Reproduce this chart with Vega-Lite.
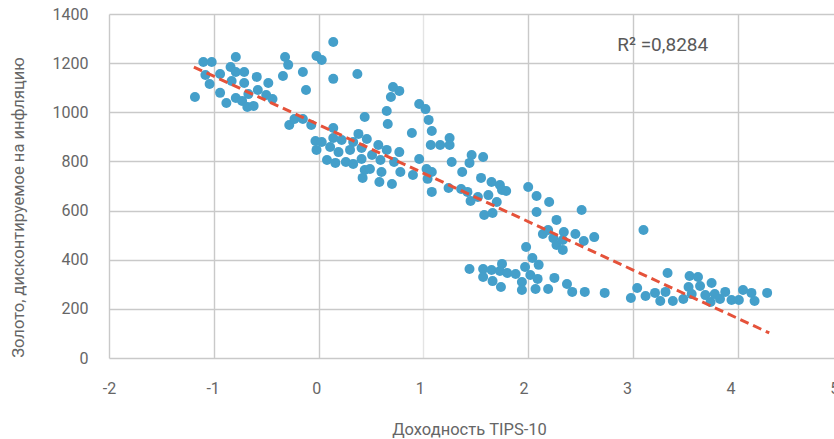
{
  "$schema": "https://vega.github.io/schema/vega-lite/v6.json",
  "autosize": {"type": "none"},
  "width": 725,
  "height": 344,
  "padding": {"left": 109, "top": 14, "right": 0, "bottom": 81},
  "background": "white",
  "config": {
    "view": {"stroke": null},
    "font": "Roboto",
    "axis": {
      "domain": false,
      "ticks": false,
      "gridColor": "#c9c9c9",
      "gridWidth": 1.4,
      "labelFont": "Roboto",
      "labelFontSize": 16,
      "labelColor": "#666666",
      "titleFont": "Roboto",
      "titleFontSize": 16.5,
      "titleFontWeight": "normal",
      "titleColor": "#666666"
    }
  },
  "datasets": {
    "points": [
      {"tips": -1.18, "gold": 1062}, {"tips": -1.10, "gold": 1205}, {"tips": -1.02, "gold": 1205},
      {"tips": -1.08, "gold": 1152}, {"tips": -1.04, "gold": 1115}, {"tips": -0.94, "gold": 1156},
      {"tips": -0.94, "gold": 1079}, {"tips": -0.88, "gold": 1038}, {"tips": -0.84, "gold": 1184},
      {"tips": -0.79, "gold": 1225}, {"tips": -0.79, "gold": 1164}, {"tips": -0.83, "gold": 1127},
      {"tips": -0.71, "gold": 1164}, {"tips": -0.71, "gold": 1119}, {"tips": -0.79, "gold": 1058},
      {"tips": -0.73, "gold": 1046}, {"tips": -0.68, "gold": 1022}, {"tips": -0.67, "gold": 1074},
      {"tips": -0.62, "gold": 1026}, {"tips": -0.59, "gold": 1144}, {"tips": -0.58, "gold": 1091},
      {"tips": -0.48, "gold": 1119}, {"tips": -0.50, "gold": 1070}, {"tips": -0.44, "gold": 1054},
      {"tips": -0.32, "gold": 1225}, {"tips": -0.29, "gold": 1193}, {"tips": -0.34, "gold": 1148},
      {"tips": -0.15, "gold": 1164}, {"tips": -0.12, "gold": 1091}, {"tips": -0.02, "gold": 1229},
      {"tips": 0.03, "gold": 1213}, {"tips": 0.14, "gold": 1286}, {"tips": 0.14, "gold": 1136},
      {"tips": -0.28, "gold": 948}, {"tips": -0.23, "gold": 973}, {"tips": -0.15, "gold": 973},
      {"tips": -0.07, "gold": 948}, {"tips": -0.03, "gold": 883}, {"tips": 0.03, "gold": 879},
      {"tips": -0.02, "gold": 847}, {"tips": 0.14, "gold": 936}, {"tips": 0.14, "gold": 895},
      {"tips": 0.22, "gold": 887}, {"tips": 0.11, "gold": 859}, {"tips": 0.19, "gold": 838},
      {"tips": 0.08, "gold": 806}, {"tips": 0.16, "gold": 794}, {"tips": 0.26, "gold": 798},
      {"tips": 0.37, "gold": 1156}, {"tips": 0.71, "gold": 1103}, {"tips": 0.77, "gold": 1087},
      {"tips": 0.69, "gold": 1062}, {"tips": 0.65, "gold": 1005}, {"tips": 0.66, "gold": 952},
      {"tips": 0.44, "gold": 981}, {"tips": 0.96, "gold": 1034}, {"tips": 1.02, "gold": 1013},
      {"tips": 1.05, "gold": 969}, {"tips": 1.08, "gold": 924}, {"tips": 0.89, "gold": 916},
      {"tips": 1.07, "gold": 867}, {"tips": 1.16, "gold": 867}, {"tips": 1.25, "gold": 895},
      {"tips": 1.25, "gold": 867}, {"tips": 0.38, "gold": 912}, {"tips": 0.46, "gold": 891},
      {"tips": 0.33, "gold": 879}, {"tips": 0.57, "gold": 867}, {"tips": 0.65, "gold": 847},
      {"tips": 0.77, "gold": 838}, {"tips": 0.30, "gold": 847}, {"tips": 0.41, "gold": 855},
      {"tips": 0.51, "gold": 826}, {"tips": 0.59, "gold": 806}, {"tips": 0.33, "gold": 790},
      {"tips": 0.41, "gold": 810}, {"tips": 0.44, "gold": 765}, {"tips": 0.49, "gold": 769},
      {"tips": 0.60, "gold": 757}, {"tips": 0.42, "gold": 733}, {"tips": 0.58, "gold": 716},
      {"tips": 0.70, "gold": 708}, {"tips": 0.72, "gold": 798}, {"tips": 0.78, "gold": 757},
      {"tips": 0.90, "gold": 745}, {"tips": 0.96, "gold": 810}, {"tips": 1.03, "gold": 769},
      {"tips": 1.08, "gold": 757}, {"tips": 1.04, "gold": 729}, {"tips": 1.08, "gold": 676},
      {"tips": 1.27, "gold": 798}, {"tips": 1.37, "gold": 757}, {"tips": 1.24, "gold": 692},
      {"tips": 1.36, "gold": 688}, {"tips": 1.42, "gold": 676}, {"tips": 1.46, "gold": 826},
      {"tips": 1.44, "gold": 794}, {"tips": 1.57, "gold": 818}, {"tips": 1.55, "gold": 733},
      {"tips": 1.65, "gold": 716}, {"tips": 1.73, "gold": 704}, {"tips": 1.75, "gold": 684},
      {"tips": 1.79, "gold": 680}, {"tips": 1.45, "gold": 639}, {"tips": 1.52, "gold": 655},
      {"tips": 1.62, "gold": 663}, {"tips": 1.70, "gold": 635}, {"tips": 1.66, "gold": 590},
      {"tips": 1.58, "gold": 582}, {"tips": 2.00, "gold": 696}, {"tips": 2.08, "gold": 659},
      {"tips": 2.08, "gold": 594}, {"tips": 2.20, "gold": 635}, {"tips": 2.14, "gold": 505},
      {"tips": 2.19, "gold": 521}, {"tips": 2.51, "gold": 602}, {"tips": 2.27, "gold": 562},
      {"tips": 2.34, "gold": 513}, {"tips": 2.45, "gold": 505}, {"tips": 2.53, "gold": 476},
      {"tips": 2.63, "gold": 492}, {"tips": 2.24, "gold": 488}, {"tips": 2.27, "gold": 460},
      {"tips": 2.33, "gold": 480}, {"tips": 2.33, "gold": 440}, {"tips": 3.10, "gold": 521},
      {"tips": 1.98, "gold": 452}, {"tips": 2.04, "gold": 407}, {"tips": 2.10, "gold": 379},
      {"tips": 1.97, "gold": 370}, {"tips": 1.44, "gold": 362}, {"tips": 1.57, "gold": 362},
      {"tips": 1.65, "gold": 358}, {"tips": 1.75, "gold": 383}, {"tips": 1.73, "gold": 354},
      {"tips": 1.80, "gold": 346}, {"tips": 1.88, "gold": 342}, {"tips": 1.57, "gold": 330},
      {"tips": 1.66, "gold": 313}, {"tips": 1.74, "gold": 289}, {"tips": 1.94, "gold": 309},
      {"tips": 1.94, "gold": 277}, {"tips": 2.02, "gold": 338}, {"tips": 2.09, "gold": 322},
      {"tips": 2.07, "gold": 281}, {"tips": 2.19, "gold": 281}, {"tips": 2.25, "gold": 326},
      {"tips": 2.37, "gold": 301}, {"tips": 2.42, "gold": 269}, {"tips": 2.54, "gold": 269},
      {"tips": 2.73, "gold": 265}, {"tips": 2.98, "gold": 244}, {"tips": 3.04, "gold": 285},
      {"tips": 3.12, "gold": 252}, {"tips": 3.21, "gold": 265}, {"tips": 3.26, "gold": 232},
      {"tips": 3.31, "gold": 269}, {"tips": 3.33, "gold": 346}, {"tips": 3.38, "gold": 232},
      {"tips": 3.48, "gold": 240}, {"tips": 3.54, "gold": 334}, {"tips": 3.62, "gold": 330},
      {"tips": 3.53, "gold": 289}, {"tips": 3.56, "gold": 260}, {"tips": 3.64, "gold": 293},
      {"tips": 3.69, "gold": 256}, {"tips": 3.75, "gold": 305}, {"tips": 3.74, "gold": 228},
      {"tips": 3.78, "gold": 260}, {"tips": 3.83, "gold": 240}, {"tips": 3.88, "gold": 269},
      {"tips": 3.94, "gold": 236}, {"tips": 4.01, "gold": 236}, {"tips": 4.05, "gold": 277},
      {"tips": 4.13, "gold": 265}, {"tips": 4.16, "gold": 232}, {"tips": 4.28, "gold": 265}
    ],
    "trend": [
      {"tips": -1.19, "gold": 1184},
      {"tips": 4.30, "gold": 102}
    ],
    "note": [
      {"label": "R² =0,8284"}
    ]
  },
  "layer": [
    {
      "data": {"name": "points"},
      "mark": {"type": "circle", "size": 100, "color": "#449fca", "opacity": 1},
      "encoding": {
        "x": {
          "field": "tips",
          "type": "quantitative",
          "scale": {"domain": [-2, 5], "range": [0, 733.6], "nice": false, "zero": false},
          "axis": {
            "values": [-2, -1, 0, 1, 2, 3, 4, 5],
            "labelExpr": "'' + datum.value",
            "title": "Доходность TIPS-10",
            "labelPadding": 22,
            "labelOffset": {"expr": "-1.2 * (datum.value + 2)"},
            "gridColor": {"condition": {"test": "datum.value == 1", "value": "#e4e4e4"}, "value": "#c9c9c9"},
            "titleY": 71,
            "titleX": 360,
            "titleBaseline": "middle",
            "labelFlush": false,
            "labelOverlap": false
          }
        },
        "y": {
          "field": "gold",
          "type": "quantitative",
          "scale": {"domain": [0, 1400], "nice": false},
          "axis": {
            "values": [0, 200, 400, 600, 800, 1000, 1200, 1400],
            "labelExpr": "'' + datum.value",
            "title": "Золото, дисконтируемое на инфляцию",
            "labelPadding": 21,
            "titleAngle": -90,
            "titleX": -91,
            "titleY": 193,
            "titleAlign": "center",
            "titleBaseline": "middle",
            "labelFlush": false,
            "labelOverlap": false
          }
        }
      }
    },
    {
      "data": {"name": "trend"},
      "mark": {"type": "line", "color": "#e5523a", "strokeWidth": 3, "strokeDash": [9, 5]},
      "encoding": {
        "x": {"field": "tips", "type": "quantitative"},
        "y": {"field": "gold", "type": "quantitative"}
      }
    },
    {
      "data": {"name": "note"},
      "mark": {"type": "text", "align": "left", "baseline": "middle", "font": "Roboto", "fontSize": 19, "color": "#595959"},
      "encoding": {
        "x": {"datum": 2.85, "type": "quantitative"},
        "y": {"datum": 1274, "type": "quantitative"},
        "text": {"field": "label"}
      }
    }
  ]
}
